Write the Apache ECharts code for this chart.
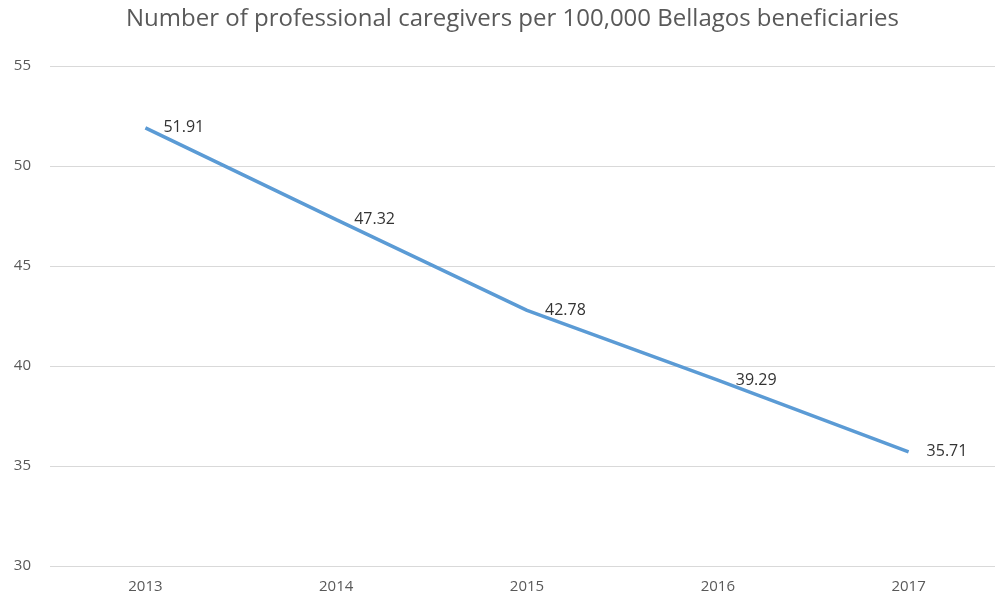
<!DOCTYPE html>
<html>
<head>
<meta charset="utf-8">
<script src="https://cdn.jsdelivr.net/npm/echarts@6/dist/echarts.min.js"></script>
<style>
  html, body { margin: 0; padding: 0; background: #fff; }
  #chart { width: 995px; height: 600px; }
</style>
</head>
<body>
<div id="chart"></div>
<script>
var years = ["2013", "2014", "2015", "2016", "2017"];
var caregivers = [51.91, 47.32, 42.78, 39.29, 35.71];

var chart = echarts.init(document.getElementById("chart"));

var option = {
  animation: false,
  title: {
    text: "Number of professional caregivers per 100,000 Bellagos beneficiaries",
    left: 121,
    top: 2,
    textStyle: {
      fontFamily: "Open Sans",
      fontSize: 24,
      fontWeight: "normal",
      color: "#595959",
    },
  },
  grid: {
    left: 50,
    top: 66,
    width: 954,
    height: 500,
    outerBoundsMode: "none",
  },
  xAxis: {
    type: "category",
    data: years,
    axisLine: { show: false },
    axisTick: { show: false },
    axisLabel: {
      margin: 13,
      fontFamily: "Open Sans",
      fontSize: 15,
      color: "#595959",
    },
  },
  yAxis: {
    type: "value",
    min: 30,
    max: 55,
    interval: 5,
    axisLabel: {
      margin: 19,
      fontFamily: "Open Sans",
      fontSize: 15,
      color: "#595959",
    },
    splitLine: { lineStyle: { color: "#d9d9d9", width: 1 } },
  },
  series: [
    {
      type: "line",
      data: caregivers,
      showSymbol: true,
      symbol: "circle",
      symbolSize: 2,
      itemStyle: { color: "rgba(0,0,0,0)" },
      lineStyle: { color: "#5b9bd5", width: 3.5 },
      label: {
        show: true,
        position: "right",
        distance: 17,
        fontFamily: "Open Sans",
        fontSize: 16,
        color: "#333333",
      },
    },
  ],
};

chart.setOption(option);
</script>
</body>
</html>
